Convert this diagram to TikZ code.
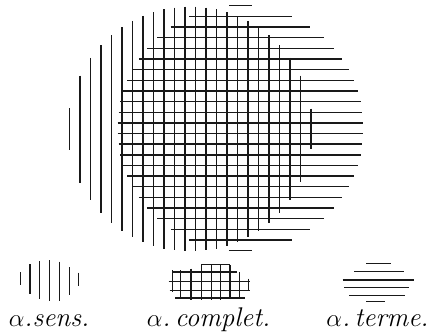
\documentclass[tikz,border=0pt]{standalone}
\usepackage{tikz}
\tikzset{
  hatch/.style={draw=black!90, line width=1.4pt},
  smallhatch/.style={draw=black!90, line width=1.4pt},
  caption/.style={font=\fontsize{27}{31}\selectfont\itshape, anchor=base, inner sep=0pt},
}

\begin{document}
\begin{tikzpicture}[x=1pt, y=-1pt]
  \useasboundingbox (0,0) rectangle (441,335);
  % big disc: vertical strokes
  \foreach \i in {0,...,23}{
    \pgfmathsetmacro{\xx}{69.3+10.5*\i}
    \pgfmathsetmacro{\hh}{sqrt(max(0,122.5*122.5-(\xx-190)*(\xx-190)))}
    \draw[hatch] (\xx,129-\hh) -- (\xx,129+\hh);
  }
  % big disc: horizontal strokes
  \foreach \j in {0,...,23}{
    \pgfmathsetmacro{\yy}{5.7+10.65*\j}
    \pgfmathsetmacro{\hh}{sqrt(max(0,123*123-(\yy-128.2)*(\yy-128.2)))}
    \draw[hatch] (240.5-\hh,\yy) -- (240.5+\hh,\yy);
  }

  % small ones
  \foreach \x/\ya/\yb in {20.7/272/285, 30/264/294, 39.5/261/299, 49.5/260/301,
      59.5/261.5/301, 69.5/267/295, 78.3/272.5/286}
    \draw[smallhatch] (\x,\ya) -- (\x,\yb);

  \foreach \x/\ya/\yb in {172.7/270/291.5, 180.5/270/298, 191/268.5/300, 201.3/265/300,
      211.3/265/300, 220.5/265/300, 230/265/298.5, 239.5/272/298.5, 248.3/278.5/290}
    \draw[smallhatch] (\x,\ya) -- (\x,\yb);
  \foreach \y/\xa/\xb in {264.5/201.3/230, 272/172/237, 281.3/168.5/250,
      290.3/169.5/250, 298/175/245}
    \draw[smallhatch] (\xa,\y) -- (\xb,\y);

  \foreach \y/\xa/\xb in {263.3/366/391, 271.2/354/404, 279.8/342.7/414,
      287.5/344/409, 295.5/349.3/405, 301.7/366/385}
    \draw[smallhatch] (\xa,\y) -- (\xb,\y);

  \node[caption] (sens) at (49,326) {$\alpha$.sens.};
  \node[caption] (complet) at (208.5,326) {$\alpha$.\,complet.};
  \node[caption] (terme) at (377.5,326) {$\alpha$.\,terme.};
\end{tikzpicture}
\end{document}
